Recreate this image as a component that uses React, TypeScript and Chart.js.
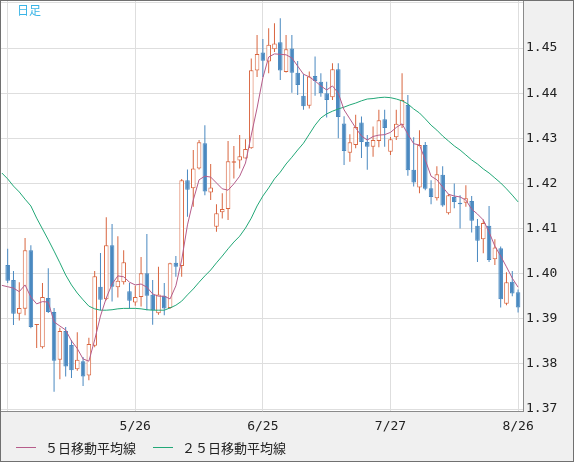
import { useEffect, useRef } from "react";
import { Chart, registerables } from "chart.js";

Chart.register(...registerables);

// ---- data ----
const periodLabel = "日足";
const tickPositions = [0, 22, 44, 66, 88];
const tickLabels = ["", "5/26", "6/25", "7/27", "8/26"];
const yTicks = [1.37, 1.38, 1.39, 1.4, 1.41, 1.42, 1.43, 1.44, 1.45, 1.46];
const yTickLabels = ["1.37", "1.38", "1.39", "1.40", "1.41", "1.42", "1.43", "1.44", "1.45", ""];

const opens = [
  1.4019, 1.3986, 1.3911, 1.3922, 1.4052, 1.3886, 1.3837, 1.3946, 1.3915, 1.3809,
  1.3873, 1.3842, 1.3788, 1.3806, 1.3774, 1.384, 1.3971, 1.3943, 1.4063, 1.397,
  1.3981, 1.3961, 1.3936, 1.3948, 1.4001, 1.3953, 1.3912, 1.3951, 1.3924, 1.4024,
  1.4017, 1.4207, 1.4189, 1.4233, 1.4289, 1.418, 1.4104, 1.4136, 1.4143, 1.4246,
  1.4251, 1.4255, 1.4278, 1.445, 1.449, 1.447, 1.4497, 1.4513, 1.4447, 1.4499,
  1.4445, 1.4394, 1.4372, 1.4438, 1.4425, 1.44, 1.4391, 1.4453, 1.4333, 1.4268,
  1.4285, 1.4335, 1.4292, 1.4281, 1.4294, 1.4342, 1.427, 1.4302, 1.4329, 1.4374,
  1.423, 1.4191, 1.4285, 1.4189, 1.4167, 1.4219, 1.4134, 1.417, 1.4157, 1.4157,
  1.4161, 1.4106, 1.4076, 1.4106, 1.4032, 1.4056, 1.3933, 1.3982, 1.3959,
];
const highs = [
  1.4055, 1.4006, 1.3981, 1.4079, 1.4063, 1.3888, 1.3979, 1.4012, 1.3924, 1.388,
  1.3882, 1.3853, 1.387, 1.3815, 1.3858, 1.4006, 1.4046, 1.4125, 1.411, 1.4083,
  1.4052, 1.3979, 1.3973, 1.4037, 1.4088, 1.3986, 1.4015, 1.3979, 1.4024, 1.4039,
  1.421, 1.4231, 1.4274, 1.4296, 1.4329, 1.4243, 1.4154, 1.4178, 1.4294, 1.4283,
  1.4307, 1.4298, 1.4477, 1.4529, 1.452, 1.4544, 1.4555, 1.4566, 1.4529, 1.4529,
  1.4471, 1.4442, 1.4448, 1.4481, 1.4444, 1.4425, 1.4466, 1.4466, 1.4349, 1.4309,
  1.4352, 1.4348, 1.4307, 1.4326, 1.4363, 1.4363, 1.4303, 1.4363, 1.4444, 1.4396,
  1.4302, 1.4318, 1.4292, 1.4207, 1.4238, 1.4238, 1.4176, 1.42, 1.4174, 1.4196,
  1.4172, 1.4121, 1.412, 1.415, 1.4076, 1.406, 1.4003, 1.4006, 1.3965,
];
const lows = [
  1.3979, 1.3886, 1.3896, 1.3908, 1.3879, 1.3835, 1.3834, 1.3913, 1.3738, 1.3766,
  1.3772, 1.3769, 1.3785, 1.3751, 1.3764, 1.3837, 1.3919, 1.3941, 1.3938, 1.3947,
  1.3976, 1.3922, 1.3929, 1.3927, 1.3919, 1.3887, 1.3909, 1.3908, 1.3922, 1.3993,
  1.3993, 1.4126, 1.4148, 1.4231, 1.4174, 1.4163, 1.4093, 1.4122, 1.4119, 1.4211,
  1.4233, 1.4255, 1.4277, 1.4436, 1.4436, 1.4444, 1.4491, 1.4429, 1.4446, 1.4401,
  1.4396, 1.4363, 1.4366, 1.4394, 1.4392, 1.4346, 1.4385, 1.43, 1.4241, 1.4248,
  1.4278, 1.4256, 1.423, 1.4259, 1.428, 1.4281, 1.4263, 1.4296, 1.4323, 1.4217,
  1.4193, 1.4178, 1.4185, 1.4154, 1.4162, 1.4148, 1.4131, 1.4145, 1.41, 1.4148,
  1.4091, 1.4026, 1.4045, 1.4026, 1.4019, 1.3925, 1.393, 1.395, 1.3914,
];
const closes = [
  1.3984, 1.3911, 1.3924, 1.4052, 1.3882, 1.3886, 1.3948, 1.3915, 1.3807, 1.3873,
  1.3794, 1.3786, 1.3809, 1.3772, 1.3844, 1.3994, 1.3942, 1.4063, 1.3971, 1.3984,
  1.4025, 1.394, 1.3948, 1.4001, 1.3951, 1.3919, 1.3954, 1.3923, 1.4023, 1.4015,
  1.4207, 1.4186, 1.4233, 1.4291, 1.4182, 1.4191, 1.4134, 1.4143, 1.4249, 1.4249,
  1.426, 1.4276, 1.4451, 1.4487, 1.4472, 1.4507, 1.451, 1.445, 1.4497, 1.4445,
  1.4418, 1.4371, 1.4437, 1.4427, 1.44, 1.4385, 1.4453, 1.4347, 1.4272, 1.4291,
  1.4325, 1.4292, 1.4281, 1.4296, 1.434, 1.4323, 1.4298, 1.4332, 1.4385, 1.4229,
  1.4202, 1.4285, 1.4188, 1.417, 1.422, 1.4151, 1.4174, 1.4159, 1.4154, 1.4167,
  1.4117, 1.4073, 1.4112, 1.403, 1.4058, 1.3943, 1.3981, 1.3956, 1.3925,
];
// moving averages: first value belongs to the day before the first candle
const ma5 = [
  1.3974, 1.3971, 1.3968, 1.396, 1.3975, 1.3948, 1.3933, 1.3938, 1.3937, 1.3893,
  1.3884, 1.3875, 1.3851, 1.3834, 1.3811, 1.3806, 1.3853, 1.3906, 1.3946, 1.3977,
  1.3995, 1.3993, 1.3981, 1.3975, 1.3977, 1.397, 1.3955, 1.395, 1.395, 1.3944,
  1.3973, 1.403, 1.4108, 1.4163, 1.4208, 1.4216, 1.4214, 1.4201, 1.4188, 1.4185,
  1.4199, 1.4216, 1.4245, 1.4307, 1.4367, 1.4434, 1.448, 1.4487, 1.4486, 1.4485,
  1.4478, 1.446, 1.4442, 1.4436, 1.4427, 1.4416, 1.4407, 1.4416, 1.44, 1.4363,
  1.4343, 1.4323, 1.4305, 1.4296, 1.4304, 1.4307, 1.4308, 1.4313, 1.4324, 1.4332,
  1.4309, 1.4288, 1.4285, 1.4252, 1.4216, 1.4208, 1.4192, 1.4176, 1.4172, 1.417,
  1.4163, 1.4143, 1.4132, 1.4119, 1.4092, 1.4061, 1.4039, 1.4015, 1.399, 1.397,
];
const ma25 = [
  1.4223, 1.421, 1.4194, 1.4181, 1.4165, 1.415, 1.4123, 1.4099, 1.4075, 1.405,
  1.4024, 1.3997, 1.3975, 1.3957, 1.3942, 1.3928, 1.3922, 1.3919, 1.3919, 1.392,
  1.3922, 1.3923, 1.3923, 1.3923, 1.3922, 1.392, 1.3919, 1.3919, 1.3919, 1.3924,
  1.393, 1.3939, 1.3953, 1.3966, 1.3981, 1.3995, 1.4008, 1.4024, 1.4039, 1.4055,
  1.407, 1.4083, 1.4101, 1.4123, 1.415, 1.4172, 1.419, 1.421, 1.4225, 1.4243,
  1.4258, 1.4274, 1.4289, 1.4309, 1.4329, 1.4345, 1.4354, 1.436, 1.4365, 1.4369,
  1.4374, 1.4378, 1.4383, 1.4387, 1.4388, 1.439, 1.4391, 1.439, 1.4387, 1.4383,
  1.4376, 1.4365, 1.4356, 1.4343, 1.4329, 1.4318, 1.4305, 1.4294, 1.4283, 1.4274,
  1.4263, 1.4252, 1.4243, 1.4232, 1.4223, 1.4212, 1.4201, 1.4188, 1.4174, 1.4159,
];
const ma5Label = "５日移動平均線";
const ma25Label = "２５日移動平均線";

// ---- styles ----
const UP = "#d9653f";
const DOWN = "#4a89c0";
const MA5_COLOR = "#b65c8a";
const MA25_COLOR = "#22a877";
const GRID = "#dedede";
const AXIS = "#8a8a8a";
const TEXT = "#222222";
const MONO = "'DejaVu Sans Mono', monospace";
const CJK = "'Noto Sans CJK JP', sans-serif";

export default function App() {
  const canvasRef = useRef<HTMLCanvasElement | null>(null);

  useEffect(() => {
    const canvas = canvasRef.current;
    if (!canvas) return;

    const isUp = closes.map((c, i) => c >= opens[i]);
    const candleColor = isUp.map((u) => (u ? UP : DOWN));

    const overlay = {
      id: "overlay",
      beforeDraw(chart: any) {
        const { ctx, chartArea } = chart;
        ctx.save();
        ctx.fillStyle = "#ffffff";
        ctx.fillRect(chartArea.left, chartArea.top, chartArea.right - chartArea.left, chartArea.bottom - chartArea.top);
        ctx.restore();
      },
      afterDraw(chart: any) {
        const ctx = chart.ctx;
        ctx.save();
        ctx.font = `12px ${CJK}`;
        ctx.fillStyle = "#3ab4e6";
        ctx.textBaseline = "middle";
        ctx.textAlign = "left";
        ctx.fillText(periodLabel, 16, 9.5);

        const items = [
          { ds: chart.data.datasets[0], x: 15 },
          { ds: chart.data.datasets[1], x: 152 },
        ];
        ctx.font = `13px ${CJK}`;
        for (const it of items) {
          ctx.strokeStyle = it.ds.borderColor;
          ctx.lineWidth = 1;
          ctx.beginPath();
          ctx.moveTo(it.x, 446.5);
          ctx.lineTo(it.x + 20, 446.5);
          ctx.stroke();
          ctx.fillStyle = TEXT;
          ctx.fillText(it.ds.label, it.x + 29, 447);
        }
        ctx.restore();
      },
    };

    const chart = new Chart(canvas, {
      type: "bar",
      data: {
        datasets: [
          {
            type: "line",
            label: ma5Label,
            data: ma5.map((v, k) => ({ x: k - 1, y: v })),
            borderColor: MA5_COLOR,
            borderWidth: 1,
            pointRadius: 0,
            tension: 0,
            order: 0,
          } as any,
          {
            type: "line",
            label: ma25Label,
            data: ma25.map((v, k) => ({ x: k - 1, y: v })),
            borderColor: MA25_COLOR,
            borderWidth: 1,
            pointRadius: 0,
            tension: 0,
            order: 1,
          } as any,
          {
            type: "bar",
            label: "body",
            data: opens.map((o, i) => ({ x: i, y: [o, closes[i]] })),
            backgroundColor: isUp.map((u) => (u ? "#ffffff" : DOWN)),
            borderColor: candleColor,
            borderWidth: 1,
            borderSkipped: false,
            barThickness: 4.6,
            minBarLength: 1,
            grouped: false,
            inflateAmount: 0,
            order: 2,
          } as any,
          {
            type: "bar",
            label: "wick",
            data: lows.map((l, i) => ({ x: i, y: [l, highs[i]] })),
            backgroundColor: candleColor,
            borderWidth: 0,
            barThickness: 1,
            grouped: false,
            inflateAmount: 0,
            order: 3,
          } as any,
        ],
      },
      options: {
        animation: false,
        responsive: false,
        events: [],
        layout: { padding: 0 },
        plugins: { legend: { display: false }, tooltip: { enabled: false } },
        scales: {
          x: {
            type: "linear",
            min: -1.15,
            max: 88.85,
            offset: false,
            afterBuildTicks: (s: any) => {
              s.ticks = tickPositions.map((v) => ({ value: v }));
            },
            afterFit: (s: any) => {
              s.height = 50;
              s.paddingLeft = 0;
              s.paddingRight = 0;
            },
            ticks: {
              autoSkip: false,
              maxRotation: 0,
              minRotation: 0,
              padding: 8,
              color: TEXT,
              font: { family: MONO, size: 13 },
              callback: (v: any) => {
                const k = tickPositions.indexOf(Number(v));
                return k >= 0 ? tickLabels[k] : "";
              },
            },
            grid: { color: GRID, lineWidth: 1, drawTicks: false, offset: false },
            border: { display: true, color: AXIS, width: 1 },
          },
          y: {
            type: "linear",
            position: "right",
            min: 1.36956,
            max: 1.46042,
            afterBuildTicks: (s: any) => {
              s.ticks = yTicks.map((v) => ({ value: v }));
            },
            afterFit: (s: any) => {
              s.width = 50;
              s.paddingTop = 0;
              s.paddingBottom = 0;
            },
            ticks: {
              padding: 3,
              color: TEXT,
              font: { family: MONO, size: 13 },
              callback: (v: any) => {
                const k = yTicks.findIndex((t) => Math.abs(t - Number(v)) < 1e-6);
                return k >= 0 ? yTickLabels[k] : "";
              },
            },
            grid: { color: GRID, lineWidth: 1, drawTicks: false },
            border: { display: true, color: AXIS, width: 1 },
          },
        },
      } as any,
      plugins: [overlay],
    });

    return () => chart.destroy();
  }, []);

  return (
    <div
      style={{
        position: "absolute",
        left: 0,
        top: 0,
        width: 574,
        height: 462,
        boxSizing: "border-box",
        border: "1px solid #707070",
        background: "#f0f0f0",
      }}
    >
      <canvas ref={canvasRef} width={572} height={460} style={{ display: "block", width: 572, height: 460 }} />
    </div>
  );
}
